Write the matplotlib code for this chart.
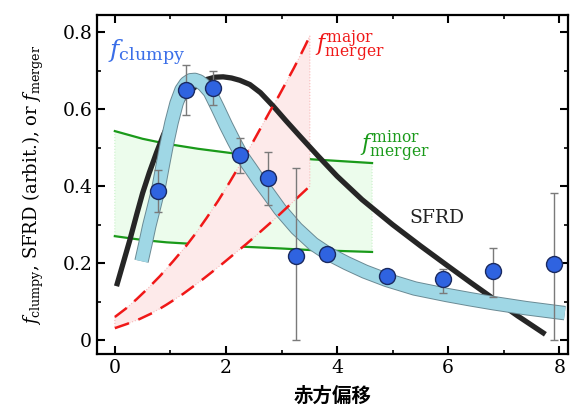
import matplotlib
matplotlib.use("Agg")
import matplotlib.pyplot as plt
import matplotlib.patheffects as pe
import numpy as np

plt.rcParams['font.family'] = ['DejaVu Serif']
plt.rcParams['mathtext.fontset'] = 'dejavuserif'

# SFRD curve (arbitrary units)
sfrd_z = [0.03, 0.15, 0.27, 0.40, 0.50, 0.62, 0.75, 0.88, 1.00, 1.15, 1.30, 1.48, 1.65, 1.80,
          1.95, 2.10, 2.25, 2.43, 2.62, 2.85, 3.08, 3.33, 3.66, 4.00, 4.45, 5.00, 5.50, 6.00,
          6.40, 6.81, 7.25, 7.75]
sfrd_y = [0.140, 0.200, 0.260, 0.330, 0.382, 0.435, 0.487, 0.535, 0.572, 0.610, 0.640, 0.662,
          0.677, 0.683, 0.684, 0.681, 0.675, 0.664, 0.643, 0.608, 0.570, 0.530, 0.478, 0.426,
          0.365, 0.300, 0.245, 0.192, 0.150, 0.108, 0.063, 0.015]

# f_clumpy fit curve
clump_z = [0.48, 0.55, 0.62, 0.70, 0.78, 0.86, 0.93, 1.02, 1.11, 1.20, 1.28, 1.36, 1.44, 1.52,
           1.60, 1.71, 1.85, 2.00, 2.14, 2.28, 2.45, 2.60, 2.76, 2.97, 3.27, 3.57, 3.82, 4.17,
           4.50, 4.90, 5.40, 5.98, 6.40, 6.81, 7.40, 8.10]
clump_y = [0.205, 0.250, 0.297, 0.343, 0.390, 0.452, 0.505, 0.565, 0.615, 0.650, 0.667, 0.675,
           0.676, 0.672, 0.663, 0.645, 0.604, 0.558, 0.518, 0.480, 0.445, 0.413, 0.382, 0.340,
           0.290, 0.250, 0.226, 0.200, 0.178, 0.156, 0.134, 0.117, 0.106, 0.096, 0.083, 0.070]

# f_clumpy data points with asymmetric errors
pts_z = [0.77, 1.28, 1.77, 2.25, 2.76, 3.26, 3.82, 4.90, 5.91, 6.81, 7.91]
pts_y = [0.387, 0.649, 0.655, 0.480, 0.420, 0.218, 0.223, 0.166, 0.158, 0.179, 0.197]
pts_lo = [0.333, 0.584, 0.610, 0.434, 0.350, 0.000, 0.215, 0.160, 0.122, 0.112, 0.000]
pts_hi = [0.442, 0.714, 0.700, 0.525, 0.488, 0.447, 0.231, 0.172, 0.185, 0.239, 0.382]

# major merger fraction (upper / lower bounds)
major_hi_z = [0.00, 0.20, 0.39, 0.60, 0.81, 1.05, 1.29, 1.47, 1.65, 1.86, 2.07, 2.25, 2.43,
              2.61, 2.79, 2.95, 3.10, 3.22, 3.33, 3.42, 3.51]
major_hi = [0.060, 0.082, 0.106, 0.135, 0.166, 0.205, 0.246, 0.280, 0.317, 0.362, 0.411, 0.455,
            0.500, 0.547, 0.594, 0.634, 0.674, 0.706, 0.737, 0.763, 0.790]
major_lo_z = [0.00, 0.22, 0.45, 0.70, 0.93, 1.20, 1.53, 1.75, 1.95, 2.15, 2.37, 2.60, 2.85,
              3.05, 3.25, 3.51]
major_lo = [0.031, 0.042, 0.055, 0.072, 0.092, 0.117, 0.152, 0.177, 0.200, 0.224, 0.250, 0.279,
            0.311, 0.338, 0.365, 0.400]

# minor merger fraction (upper / lower bounds)
minor_z = [0.00, 0.50, 0.93, 1.50, 2.25, 3.00, 3.51, 4.63]
minor_hi = [0.543, 0.523, 0.510, 0.497, 0.483, 0.475, 0.470, 0.460]
minor_lo = [0.270, 0.260, 0.254, 0.249, 0.243, 0.238, 0.234, 0.229]

xticks = [0, 2, 4, 6, 8]
yticks = [0, 0.2, 0.4, 0.6, 0.8]
ytick_labels = ['0', '0.2', '0.4', '0.6', '0.8']

fig = plt.figure(figsize=(5.71, 4.13), dpi=100)
ax = fig.add_axes([0.170, 0.143, 0.825, 0.821])

# minor merger band
ax.fill_between(minor_z, minor_lo, minor_hi, facecolor='#ecfcec', edgecolor='#c8f0c8',
                linestyle=':', linewidth=0.8, zorder=1)
ax.plot(minor_z, minor_hi, color='#1a9a1a', lw=1.6, zorder=2)
ax.plot(minor_z, minor_lo, color='#1a9a1a', lw=1.6, zorder=2)

# major merger band (common grid from the upper-bound abscissae)
major_lo_on_hi = np.interp(major_hi_z, major_lo_z, major_lo)
ax.fill_between(major_hi_z, major_lo_on_hi, major_hi, facecolor='#fdeaea', edgecolor='#f8b8b8',
                linestyle=':', linewidth=0.8, zorder=3)

# SFRD
ax.plot(sfrd_z, sfrd_y, color='#262626', lw=3.8, solid_capstyle='butt', zorder=4)

# f_clumpy fit band
ax.plot(clump_z, clump_y, color='#9fd7e5', lw=9.0, solid_capstyle='butt', zorder=5,
        path_effects=[pe.Stroke(linewidth=10.4, foreground='#6a8a94'), pe.Normal()])

# major merger dashed bounds
ax.plot(major_hi_z, major_hi, color='#f01818', lw=1.8, dashes=(6, 4), zorder=6)
ax.plot(major_lo_z, major_lo, color='#f01818', lw=1.8, dashes=(6, 4), zorder=6)

# data points
yerr = [np.array(pts_y) - np.array(pts_lo), np.array(pts_hi) - np.array(pts_y)]
ax.errorbar(pts_z, pts_y, yerr=yerr, fmt='none', ecolor='#7a7a7a', elinewidth=1.0,
            capsize=3, capthick=1.0, zorder=7)
ax.plot(pts_z, pts_y, 'o', ms=11.5, mfc='#2f63e0', mec='#1a2a60', mew=1.0, zorder=8)

# labels
ax.text(-0.12, 0.733, r'$f_{\rm clumpy}$', color='#3a6ee8', fontsize=18, ha='left', va='baseline')
ax.text(3.60, 0.765, r'$f^{\rm major}_{\rm merger}$', color='#f01818', fontsize=16, ha='left', va='center')
ax.text(4.42, 0.505, r'$f^{\rm minor}_{\rm merger}$', color='#1a9a1a', fontsize=16, ha='left', va='center')
ax.text(5.80, 0.317, 'SFRD', color='#222222', fontsize=13.5, ha='center', va='center')

ax.set_xlim(-0.32, 8.16)
ax.set_ylim(-0.036, 0.845)
ax.set_xticks(xticks)
ax.set_yticks(yticks)
ax.set_yticklabels(ytick_labels)
ax.set_xticks([1, 3, 5, 7], minor=True)
ax.set_yticks([0.1, 0.3, 0.5, 0.7], minor=True)
ax.tick_params(which='both', direction='in', top=True, right=True, labelsize=13.5)
ax.tick_params(which='major', length=6, width=1.5)
ax.tick_params(which='minor', length=3, width=1.2)
for s in ax.spines.values():
    s.set_linewidth(1.6)

ax.set_ylabel(r'$f_{\rm clumpy}$, SFRD (arbit.), or $f_{\rm merger}$', fontsize=13, labelpad=12)
ax.set_xlabel('赤方偏移', fontsize=14, fontweight='bold',
              family=['Noto Sans CJK JP', 'DejaVu Sans'], labelpad=7)

fig.savefig('out.png', dpi=100)
